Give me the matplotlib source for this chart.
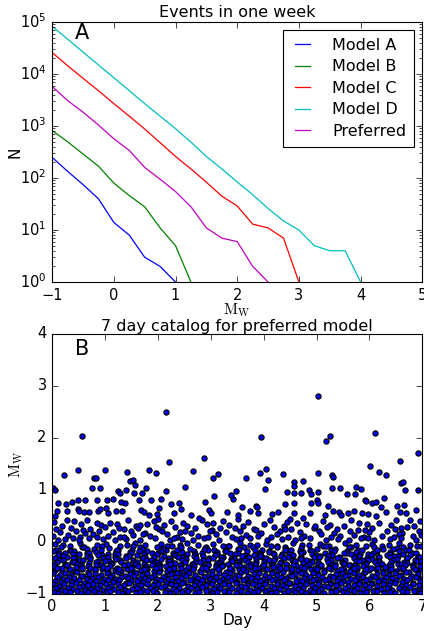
import matplotlib
matplotlib.use("Agg")
import matplotlib.pyplot as plt

plt.style.use("classic")

# --- Panel A: number of events per magnitude bin in one week ---
mags_a = [-1, -0.75, -0.5, -0.25, 0, 0.25, 0.5, 0.75, 1.0]
model_a = [250, 135, 75, 40, 14, 8, 3, 2, 1]

mags_b = [-1, -0.75, -0.5, -0.25, 0, 0.25, 0.5, 0.75, 1.0, 1.25]
model_b = [820, 500, 290, 170, 80, 46, 28, 11, 5, 1]

mags_c = [-1, -0.75, -0.5, -0.25, 0, 0.25, 0.5, 0.75, 1.0, 1.25, 1.5, 1.75,
          2.0, 2.25, 2.5, 2.75, 3.0]
model_c = [26000, 14500, 8300, 4800, 2700, 1550, 880, 480, 260, 150, 83, 45,
           29, 13, 11, 7, 1]

mags_d = [-1, -0.75, -0.5, -0.25, 0, 0.25, 0.5, 0.75, 1.0, 1.25, 1.5, 1.75,
          2.0, 2.25, 2.5, 2.75, 3.0, 3.25, 3.5, 3.75, 4.0]
model_d = [83000, 47000, 26500, 15000, 8500, 4800, 2700, 1550, 890, 490, 260,
           150, 84, 48, 26, 15, 10, 5, 4, 4, 1]

mags_p = [-1, -0.75, -0.5, -0.25, 0, 0.25, 0.5, 0.75, 1.0, 1.25, 1.5, 1.75,
          2.0, 2.25, 2.5]
preferred = [5800, 3100, 1850, 1050, 570, 340, 160, 95, 55, 28, 11, 7, 6, 2, 1]

# --- Panel B: 7 day catalog (day, magnitude) ---
# largest events, read one by one
cat_top = [
    (0.57, 2.04), (2.15, 2.49), (3.95, 2.01), (5.02, 2.81), (5.17, 1.93), (5.25, 2.03),
    (6.11, 2.09), (6.92, 1.70), (2.87, 1.62), (2.21, 1.54), (6.02, 1.46), (6.57, 1.56),
    (0.23, 1.29), (0.48, 1.38), (0.99, 1.38), (1.42, 1.35), (1.84, 1.39), (1.97, 1.33),
    (2.67, 1.37), (3.13, 1.31), (3.93, 1.33), (4.04, 1.40), (4.36, 1.31), (5.02, 1.32),
    (6.18, 1.34), (6.31, 1.29), (5.29, 1.29), (5.31, 1.24), (3.05, 1.22), (3.66, 1.22),
    (4.09, 1.19), (4.58, 1.15), (4.74, 1.17), (6.59, 1.13), (6.64, 1.15), (0.80, 1.22),
    (0.83, 1.23), (1.48, 1.16), (1.53, 1.18), (1.57, 1.10), (2.52, 1.06), (0.02, 1.04),
    (0.06, 1.00), (0.76, 1.04), (0.91, 1.04), (1.77, 1.04), (2.15, 0.97), (4.03, 1.02),
    (5.29, 1.03), (5.45, 1.03), (5.85, 1.01), (5.74, 1.06), (6.68, 0.99), (6.91, 1.00),
    (4.86, 0.99), (1.25, 0.97), (1.28, 0.94), (1.40, 0.99), (1.55, 0.93), (1.70, 0.93),
    (3.47, 0.97), (3.38, 0.90), (4.45, 0.96), (4.58, 1.08), (5.02, 0.96), (5.58, 0.91),
    (5.72, 0.92), (6.28, 0.84), (4.57, 0.94), (4.71, 0.94), (4.89, 0.91),
]
cat_upper = [
    (0.11, .74), (0.27, .72), (0.49, .81), (0.63, .80), (0.38, .76), (0.84, .80), (1.03, .81),
    (1.15, .82), (1.31, .76), (1.37, .75), (1.65, .81), (1.87, .81), (2.05, .83), (2.03, .65),
    (2.25, .72), (2.40, .74), (2.43, .64), (2.89, .76), (3.07, .88), (3.42, .83), (3.59, .67),
    (3.86, .69), (4.41, .73), (4.58, .74), (4.90, .74), (5.01, .81), (5.03, .75), (5.22, .69),
    (5.92, .81), (5.94, .78), (6.05, .75), (6.12, .76), (6.21, .66), (6.52, .69), (6.65, .71),
    (6.89, .62), (6.32, .58), (6.57, .58), (6.69, .55), (0.09, .59), (0.05, .49), (0.28, .59),
    (0.49, .63), (0.50, .60), (0.60, .58), (0.70, .58), (0.86, .60), (0.91, .64), (1.02, .65),
    (1.05, .55), (1.21, .60), (1.32, .60), (1.68, .62), (1.73, .58), (1.83, .51), (1.99, .53),
    (2.01, .44), (2.30, .55), (2.62, .51), (2.77, .45), (2.97, .61), (3.00, .56), (3.31, .57),
    (3.51, .51), (3.74, .59), (3.87, .67), (3.89, .56), (4.16, .53), (4.27, .58), (4.57, .56),
    (4.50, .44), (4.74, .46), (4.88, .55), (5.16, .51), (5.31, .59), (5.43, .58), (5.70, .60),
    (5.86, .56), (5.97, .53), (6.13, .49), (5.59, .56), (5.47, .51),
]
cat_mid = [
    (.04, .38), (.42, .40), (.66, .41), (1.10, .37), (1.44, .42), (1.93, .39), (2.48, .36),
    (2.83, .41), (3.24, .40), (3.70, .38), (4.12, .42), (4.63, .37), (5.12, .40), (5.66, .41),
    (6.18, .37), (6.77, .42), (6.95, .39),
    (.18, .31), (.55, .34), (.93, .32), (1.22, .35), (1.58, .30), (1.80, .34), (2.12, .33),
    (2.55, .31), (2.92, .35), (3.35, .32), (3.60, .30), (4.01, .34), (4.38, .31), (4.80, .35),
    (5.26, .33), (5.52, .30), (5.95, .34), (6.40, .32), (6.85, .30),
    (.08, .25), (.35, .27), (.72, .24), (1.00, .28), (1.35, .25), (1.62, .27), (2.02, .24),
    (2.33, .28), (2.70, .26), (3.02, .23), (3.45, .27), (3.82, .25), (4.20, .28), (4.52, .24),
    (4.95, .27), (5.38, .25), (5.78, .23), (6.05, .27), (6.48, .24), (6.72, .28),
    (.14, .18), (.45, .20), (.62, .17), (.88, .21), (1.16, .18), (1.50, .20), (1.75, .17),
    (2.08, .21), (2.42, .19), (2.62, .17), (2.98, .20), (3.28, .18), (3.55, .21), (3.95, .17),
    (4.30, .20), (4.68, .18), (5.05, .21), (5.33, .17), (5.64, .20), (6.00, .18), (6.33, .21),
    (6.62, .17), (6.94, .20),
    (.02, .11), (.30, .13), (.52, .10), (.78, .14), (1.06, .12), (1.28, .10), (1.52, .13),
    (1.85, .11), (2.18, .14), (2.37, .10), (2.76, .12), (3.10, .14), (3.40, .10), (3.66, .13),
    (3.90, .11), (4.25, .14), (4.46, .10), (4.77, .12), (5.09, .14), (5.45, .11), (5.71, .13),
    (5.90, .10), (6.24, .12), (6.55, .14), (6.82, .11),
    (.12, .04), (.24, .06), (.50, .03), (.70, .07), (.96, .05), (1.19, .03), (1.40, .06),
    (1.67, .04), (1.94, .07), (2.22, .03), (2.46, .06), (2.67, .04), (2.88, .07), (3.16, .03),
    (3.48, .05), (3.75, .07), (4.06, .03), (4.34, .06), (4.60, .04), (4.87, .07), (5.18, .03),
    (5.40, .06), (5.62, .04), (5.85, .07), (6.08, .03), (6.38, .05), (6.60, .07), (6.88, .04),
    (.28, .42), (.85, .36), (1.67, .33), (2.25, .40), (3.05, .37), (3.52, .43), (4.45, .38),
    (4.98, .31), (5.80, .36), (6.50, .41), (.58, .22), (1.26, .26), (1.97, .29), (2.52, .21),
    (3.18, .27), (3.86, .22), (4.40, .25), (5.20, .29), (5.92, .23), (6.60, .26),
    (.40, .08), (.85, .10), (1.35, .09), (1.72, .14), (2.30, .08), (2.95, .09), (3.58, .08),
    (4.14, .09), (4.70, .08), (5.28, .09), (5.98, .07), (6.46, .09), (6.97, .13),
]
cat_trans = [
    (.06, -.04), (.33, -.08), (.52, -.03), (.84, -.07), (1.02, -.05), (1.29, -.09), (1.57, -.02),
    (1.76, -.06), (2.06, -.04), (2.27, -.08), (2.55, -.03), (2.76, -.07), (3.05, -.05),
    (3.23, -.09), (3.56, -.02), (3.74, -.06), (4.04, -.04), (4.25, -.08), (4.55, -.03),
    (4.73, -.07), (5.06, -.05), (5.24, -.09), (5.54, -.02), (5.75, -.06), (6.05, -.04),
    (6.24, -.08), (6.56, -.03), (6.76, -.07),
    (.20, -.07), (.57, -.10), (.95, -.08), (1.42, -.06), (1.66, -.11), (2.17, -.09), (2.42, -.07),
    (2.91, -.10), (3.33, -.08), (3.62, -.11), (3.88, -.06), (4.13, -.09), (4.40, -.10),
    (4.86, -.07), (5.12, -.08), (5.66, -.11), (5.94, -.09), (6.37, -.06), (6.64, -.10), (6.90, -.08),
    (.16, -.11), (.34, -.15), (.61, -.10), (.80, -.14), (1.07, -.12), (1.25, -.16), (1.53, -.09),
    (1.70, -.13), (1.98, -.11), (2.15, -.15), (2.44, -.10), (2.61, -.14), (2.89, -.12),
    (3.06, -.16), (3.35, -.09), (3.52, -.13), (3.80, -.11), (3.97, -.15), (4.26, -.10),
    (4.43, -.14), (4.71, -.12), (4.88, -.16), (5.17, -.09), (5.34, -.13), (5.62, -.11),
    (5.79, -.15), (6.08, -.10), (6.25, -.14), (6.53, -.12), (6.70, -.16), (6.97, -.09),
    (.07, -.15), (.36, -.17), (.66, -.14), (.93, -.16), (1.20, -.18), (1.51, -.15),
    (1.79, -.17), (2.10, -.14), (2.37, -.16), (2.69, -.18), (2.95, -.15), (3.26, -.17),
    (3.54, -.14), (3.84, -.16), (4.11, -.18), (4.41, -.15), (4.69, -.17), (5.00, -.14),
    (5.27, -.16), (5.58, -.18), (5.86, -.15), (6.14, -.17), (6.45, -.14), (6.74, -.16),
    (.02, -.18), (.24, -.22), (.41, -.17), (.65, -.21), (.82, -.19), (1.06, -.23), (1.23, -.16),
    (1.47, -.20), (1.64, -.18), (1.88, -.22), (2.05, -.17), (2.29, -.21), (2.46, -.19),
    (2.70, -.23), (2.87, -.16), (3.11, -.20), (3.28, -.18), (3.52, -.22), (3.69, -.17),
    (3.93, -.21), (4.10, -.19), (4.34, -.23), (4.51, -.16), (4.75, -.20), (4.92, -.18),
    (5.16, -.22), (5.33, -.17), (5.57, -.21), (5.74, -.19), (5.98, -.23), (6.15, -.16),
    (6.39, -.20), (6.56, -.18), (6.80, -.22),
    (.13, -.21), (.40, -.24), (.69, -.22), (.94, -.25), (1.19, -.23), (1.50, -.21),
    (1.74, -.24), (2.01, -.22), (2.31, -.25), (2.55, -.23), (2.83, -.21), (3.12, -.24),
    (3.36, -.22), (3.64, -.25), (3.93, -.23), (4.17, -.21), (4.47, -.24), (4.71, -.22),
    (4.99, -.25), (5.28, -.23), (5.52, -.21), (5.82, -.24), (6.06, -.22), (6.34, -.25),
    (6.63, -.23), (6.88, -.21),
    (.12, -.25), (.28, -.29), (.51, -.24), (.66, -.28), (.87, -.26), (1.02, -.30), (1.24, -.23),
    (1.39, -.27), (1.61, -.25), (1.76, -.29), (1.98, -.24), (2.12, -.28), (2.35, -.26),
    (2.49, -.30), (2.71, -.23), (2.86, -.27), (3.08, -.25), (3.23, -.29), (3.45, -.24),
    (3.59, -.28), (3.82, -.26), (3.96, -.30), (4.19, -.23), (4.33, -.27), (4.55, -.25),
    (4.70, -.29), (4.92, -.24), (5.07, -.28), (5.29, -.26), (5.43, -.30), (5.66, -.23),
    (5.80, -.27), (6.03, -.25), (6.17, -.29), (6.39, -.24), (6.54, -.28), (6.76, -.26),
    (6.91, -.30),
    (.20, -.28), (.44, -.31), (.72, -.29), (.96, -.32), (1.18, -.30), (1.46, -.28),
    (1.70, -.31), (1.93, -.29), (2.21, -.32), (2.45, -.30), (2.68, -.28), (2.96, -.31),
    (3.19, -.29), (3.43, -.32), (3.71, -.30), (3.94, -.28), (4.21, -.31), (4.46, -.29),
    (4.69, -.32), (4.96, -.30), (5.21, -.28), (5.44, -.31), (5.72, -.29), (5.96, -.32),
    (6.19, -.30), (6.46, -.28), (6.71, -.31), (6.96, -.29),
    (.05, -.32), (.20, -.36), (.39, -.31), (.53, -.35), (.72, -.33), (.87, -.37), (1.05, -.30),
    (1.20, -.34), (1.39, -.32), (1.53, -.36), (1.72, -.31), (1.86, -.35), (2.05, -.33),
    (2.20, -.37), (2.38, -.30), (2.53, -.34), (2.72, -.32), (2.86, -.36), (3.05, -.31),
    (3.20, -.35), (3.38, -.33), (3.53, -.37), (3.72, -.30), (3.86, -.34), (4.05, -.32),
    (4.19, -.36), (4.38, -.31), (4.53, -.35), (4.71, -.33), (4.86, -.37), (5.05, -.30),
    (5.19, -.34), (5.38, -.32), (5.53, -.36), (5.71, -.31), (5.86, -.35), (6.05, -.33),
    (6.19, -.37), (6.38, -.30), (6.53, -.34), (6.71, -.32), (6.86, -.36),
    (.13, -.35), (.37, -.38), (.58, -.36), (.82, -.39), (1.07, -.37), (1.28, -.35),
    (1.54, -.38), (1.77, -.36), (1.98, -.39), (2.24, -.37), (2.45, -.35), (2.70, -.38),
    (2.94, -.36), (3.15, -.39), (3.40, -.37), (3.64, -.35), (3.85, -.38), (4.11, -.36),
    (4.32, -.39), (4.57, -.37), (4.80, -.35), (5.02, -.38), (5.27, -.36), (5.48, -.39),
    (5.74, -.37), (5.97, -.35), (6.18, -.38), (6.44, -.36), (6.65, -.39), (6.90, -.37),
    (.10, -.39), (.24, -.43), (.41, -.38), (.54, -.42), (.70, -.40), (.84, -.44), (1.00, -.37),
    (1.14, -.41), (1.31, -.39), (1.43, -.43), (1.61, -.38), (1.74, -.42), (1.90, -.40),
    (2.04, -.44), (2.21, -.37), (2.33, -.41), (2.51, -.39), (2.64, -.43), (2.80, -.38),
    (2.94, -.42), (3.11, -.40), (3.23, -.44), (3.41, -.37), (3.54, -.41), (3.70, -.39),
    (3.84, -.43), (4.01, -.38), (4.13, -.42), (4.31, -.40), (4.44, -.44), (4.60, -.37),
    (4.74, -.41), (4.91, -.39), (5.03, -.43), (5.21, -.38), (5.34, -.42), (5.50, -.40),
    (5.64, -.44), (5.81, -.37), (5.93, -.41), (6.11, -.39), (6.24, -.43), (6.40, -.38),
    (6.54, -.42), (6.71, -.40), (6.83, -.44), (6.97, -.37),
    (.03, -.42), (.26, -.45), (.47, -.43), (.68, -.46), (.92, -.44), (1.12, -.42),
    (1.35, -.45), (1.57, -.43), (1.77, -.46), (2.01, -.44), (2.23, -.42), (2.44, -.45),
    (2.67, -.43), (2.88, -.46), (3.10, -.44), (3.32, -.42), (3.53, -.45), (3.76, -.43),
    (3.97, -.46), (4.18, -.44), (4.42, -.42), (4.62, -.45), (4.85, -.43), (5.07, -.46),
    (5.27, -.44), (5.51, -.42), (5.72, -.45), (5.93, -.43), (6.17, -.46), (6.37, -.44),
    (6.60, -.42), (6.82, -.45),
    (.03, -.46), (.18, -.50), (.29, -.45), (.45, -.49), (.55, -.47), (.71, -.51), (.82, -.44),
    (.97, -.48), (1.09, -.46), (1.23, -.50), (1.35, -.45), (1.51, -.49), (1.62, -.47),
    (1.77, -.51), (1.88, -.44), (2.03, -.48), (2.15, -.46), (2.30, -.50), (2.41, -.45),
    (2.57, -.49), (2.68, -.47), (2.83, -.51), (2.95, -.44), (3.10, -.48), (3.21, -.46),
    (3.37, -.50), (3.48, -.45), (3.63, -.49), (3.75, -.47), (3.90, -.51), (4.01, -.44),
    (4.17, -.48), (4.28, -.46), (4.43, -.50), (4.55, -.45), (4.70, -.49), (4.81, -.47),
    (4.97, -.51), (5.08, -.44), (5.23, -.48), (5.35, -.46), (5.50, -.50), (5.61, -.45),
    (5.77, -.49), (5.88, -.47), (6.03, -.51), (6.15, -.44), (6.30, -.48), (6.41, -.46),
    (6.57, -.50), (6.68, -.45), (6.83, -.49), (6.95, -.47),
    (.10, -.50), (.34, -.53), (.56, -.51), (.81, -.52), (1.03, -.50), (1.26, -.53),
    (1.50, -.51), (1.74, -.52), (1.96, -.50), (2.21, -.53), (2.44, -.51), (2.66, -.52),
    (2.91, -.50), (3.14, -.53), (3.36, -.51), (3.61, -.52), (3.83, -.50), (4.06, -.53),
    (4.31, -.51), (4.53, -.52), (4.76, -.50), (5.01, -.53), (5.23, -.51), (5.46, -.52),
    (5.71, -.50), (5.93, -.53), (6.16, -.51), (6.41, -.52), (6.63, -.50), (6.86, -.53),
]
cat_low = [
    (.06, -.54), (.19, -.57), (.31, -.53), (.44, -.56), (.56, -.52), (.67, -.58), (.81, -.55),
    (.94, -.53), (1.05, -.57), (1.18, -.54), (1.31, -.56), (1.42, -.52), (1.55, -.58),
    (1.68, -.55), (1.80, -.53), (1.93, -.57), (2.04, -.54), (2.17, -.56), (2.30, -.52),
    (2.41, -.58), (2.54, -.55), (2.67, -.53), (2.79, -.57), (2.92, -.54), (3.03, -.56),
    (3.16, -.52), (3.29, -.58), (3.40, -.55), (3.53, -.53), (3.66, -.57), (3.78, -.54),
    (3.91, -.56), (4.02, -.52), (4.15, -.58), (4.28, -.55), (4.39, -.53), (4.52, -.57),
    (4.65, -.54), (4.77, -.56), (4.90, -.52), (5.01, -.58), (5.14, -.55), (5.27, -.53),
    (5.38, -.57), (5.51, -.54), (5.64, -.56), (5.76, -.52), (5.89, -.58), (6.00, -.55),
    (6.13, -.53), (6.26, -.57), (6.37, -.54), (6.50, -.56), (6.63, -.52), (6.75, -.58),
    (6.88, -.55), (6.98, -.53),
    (.02, -.61), (.14, -.64), (.25, -.60), (.36, -.63), (.47, -.59), (.59, -.65), (.69, -.62),
    (.81, -.61), (.92, -.64), (1.03, -.60), (1.14, -.63), (1.25, -.59), (1.37, -.65),
    (1.47, -.62), (1.59, -.61), (1.70, -.64), (1.80, -.60), (1.92, -.63), (2.03, -.59),
    (2.14, -.65), (2.25, -.62), (2.37, -.61), (2.47, -.64), (2.59, -.60), (2.70, -.63),
    (2.81, -.59), (2.92, -.65), (3.03, -.62), (3.15, -.61), (3.25, -.64), (3.37, -.60),
    (3.48, -.63), (3.58, -.59), (3.70, -.65), (3.81, -.62), (3.92, -.61), (4.03, -.64),
    (4.15, -.60), (4.25, -.63), (4.37, -.59), (4.48, -.65), (4.59, -.62), (4.70, -.61),
    (4.81, -.64), (4.93, -.60), (5.03, -.63), (5.15, -.59), (5.26, -.65), (5.36, -.62),
    (5.48, -.61), (5.59, -.64), (5.70, -.60), (5.81, -.63), (5.92, -.59), (6.04, -.65),
    (6.14, -.62), (6.26, -.61), (6.37, -.64), (6.48, -.60), (6.59, -.63), (6.70, -.59),
    (6.81, -.65), (6.92, -.62),
    (.09, -.68), (.20, -.71), (.32, -.67), (.42, -.70), (.54, -.66), (.65, -.72), (.76, -.69),
    (.87, -.67), (.98, -.71), (1.09, -.68), (1.21, -.71), (1.31, -.67), (1.43, -.70),
    (1.54, -.66), (1.65, -.72), (1.76, -.69), (1.87, -.67), (1.98, -.71), (2.10, -.68),
    (2.20, -.71), (2.32, -.67), (2.43, -.70), (2.54, -.66), (2.65, -.72), (2.76, -.69),
    (2.87, -.67), (2.99, -.71), (3.09, -.68), (3.21, -.71), (3.32, -.67), (3.43, -.70),
    (3.54, -.66), (3.65, -.72), (3.76, -.69), (3.88, -.67), (3.98, -.71), (4.10, -.68),
    (4.21, -.71), (4.32, -.67), (4.43, -.70), (4.54, -.66), (4.65, -.72), (4.77, -.69),
    (4.87, -.67), (4.99, -.71), (5.10, -.68), (5.21, -.71), (5.32, -.67), (5.43, -.70),
    (5.54, -.66), (5.66, -.72), (5.76, -.69), (5.88, -.67), (5.99, -.71), (6.10, -.68),
    (6.21, -.71), (6.32, -.67), (6.43, -.70), (6.55, -.66), (6.65, -.72), (6.77, -.69),
    (6.88, -.67), (6.98, -.71),
    (.05, -.75), (.16, -.78), (.28, -.74), (.38, -.77), (.50, -.73), (.61, -.79), (.71, -.76),
    (.83, -.75), (.94, -.78), (1.05, -.74), (1.16, -.77), (1.27, -.73), (1.39, -.79),
    (1.49, -.76), (1.60, -.75), (1.72, -.78), (1.82, -.74), (1.94, -.77), (2.05, -.73),
    (2.16, -.79), (2.27, -.76), (2.38, -.75), (2.50, -.78), (2.60, -.74), (2.72, -.77),
    (2.83, -.73), (2.93, -.79), (3.05, -.76), (3.16, -.75), (3.27, -.78), (3.38, -.74),
    (3.49, -.77), (3.61, -.73), (3.71, -.79), (3.83, -.76), (3.94, -.75), (4.05, -.78),
    (4.16, -.74), (4.27, -.77), (4.39, -.73), (4.49, -.79), (4.61, -.76), (4.72, -.75),
    (4.82, -.78), (4.94, -.74), (5.05, -.77), (5.16, -.73), (5.27, -.79), (5.38, -.76),
    (5.50, -.75), (5.60, -.78), (5.72, -.74), (5.83, -.77), (5.94, -.73), (6.05, -.79),
    (6.16, -.76), (6.28, -.75), (6.38, -.78), (6.50, -.74), (6.61, -.77), (6.72, -.73),
    (6.83, -.79), (6.95, -.76),
    (.01, -.82), (.13, -.85), (.23, -.81), (.35, -.84), (.45, -.80), (.57, -.86), (.68, -.83),
    (.78, -.81), (.91, -.84), (1.01, -.82), (1.12, -.85), (1.24, -.81), (1.35, -.84),
    (1.45, -.80), (1.57, -.86), (1.68, -.83), (1.79, -.81), (1.91, -.84), (2.01, -.82),
    (2.13, -.85), (2.24, -.81), (2.35, -.84), (2.46, -.80), (2.57, -.86), (2.69, -.83),
    (2.79, -.81), (2.91, -.84), (3.02, -.82), (3.13, -.85), (3.25, -.81), (3.35, -.84),
    (3.47, -.80), (3.58, -.86), (3.69, -.83), (3.80, -.81), (3.91, -.84), (4.03, -.82),
    (4.13, -.85), (4.25, -.81), (4.36, -.84), (4.47, -.80), (4.59, -.86), (4.69, -.83),
    (4.81, -.81), (4.92, -.84), (5.03, -.82), (5.14, -.85), (5.25, -.81), (5.37, -.84),
    (5.47, -.80), (5.59, -.86), (5.70, -.83), (5.81, -.81), (5.92, -.84), (6.03, -.82),
    (6.15, -.85), (6.25, -.81), (6.37, -.84), (6.48, -.80), (6.59, -.86), (6.70, -.83),
    (6.82, -.81), (6.93, -.84),
    (.07, -.88), (.18, -.92), (.30, -.89), (.40, -.91), (.51, -.87), (.63, -.93), (.73, -.90),
    (.84, -.88), (.96, -.92), (1.06, -.89), (1.17, -.91), (1.29, -.87), (1.38, -.93),
    (1.51, -.90), (1.61, -.88), (1.72, -.92), (1.85, -.89), (1.94, -.91), (2.06, -.87),
    (2.18, -.93), (2.28, -.90), (2.40, -.88), (2.51, -.92), (2.62, -.89), (2.74, -.91),
    (2.84, -.87), (2.97, -.93), (3.07, -.90), (3.18, -.88), (3.30, -.92), (3.41, -.89),
    (3.52, -.91), (3.64, -.87), (3.74, -.93), (3.86, -.90), (3.97, -.88), (4.08, -.92),
    (4.20, -.89), (4.31, -.91), (4.42, -.87), (4.53, -.93), (4.65, -.90), (4.75, -.88),
    (4.87, -.92), (4.98, -.89), (5.09, -.91), (5.21, -.87), (5.31, -.93), (5.43, -.90),
    (5.54, -.88), (5.65, -.92), (5.77, -.89), (5.87, -.91), (5.99, -.87), (6.10, -.93),
    (6.21, -.90), (6.33, -.88), (6.43, -.92), (6.55, -.89), (6.66, -.91), (6.77, -.87),
    (6.89, -.93), (6.99, -.90),
    (.03, -.96), (.12, -.99), (.25, -.95), (.34, -.97), (.47, -.94), (.55, -.98), (.68, -.96),
    (.80, -.95), (.88, -.99), (1.01, -.97), (1.10, -.94), (1.24, -.96), (1.33, -.98),
    (1.44, -.95), (1.58, -.99), (1.66, -.97), (1.79, -.95), (1.90, -.94), (1.99, -.98),
    (2.13, -.96), (2.22, -.99), (2.35, -.95), (2.45, -.97), (2.56, -.94), (2.70, -.98),
    (2.78, -.96), (2.91, -.95), (3.03, -.99), (3.12, -.97), (3.25, -.94), (3.34, -.96),
    (3.48, -.98), (3.57, -.95), (3.69, -.99), (3.82, -.97), (3.90, -.95), (4.03, -.94),
    (4.14, -.98), (4.24, -.96), (4.38, -.99), (4.46, -.95), (4.59, -.97), (4.70, -.94),
    (4.80, -.98), (4.94, -.96), (5.02, -.95), (5.15, -.99), (5.27, -.97), (5.36, -.94),
    (5.50, -.96), (5.58, -.98), (5.71, -.95), (5.82, -.99), (5.93, -.97), (6.06, -.95),
    (6.14, -.94), (6.28, -.98), (6.38, -.96), (6.49, -.99), (6.62, -.95), (6.71, -.97),
    (6.84, -.94), (6.95, -.98),
]

fig = plt.figure(figsize=(4.24, 6.31), dpi=100, facecolor="white")
ax1 = fig.add_axes([0.123, 0.553, 0.873, 0.412])
ax2 = fig.add_axes([0.123, 0.059, 0.873, 0.412])

# --- Panel A ---
lw = 0.9
ax1.plot(mags_a, model_a, color="b", lw=lw, label="Model A")
ax1.plot(mags_b, model_b, color="g", lw=lw, label="Model B")
ax1.plot(mags_c, model_c, color="r", lw=lw, label="Model C")
ax1.plot(mags_d, model_d, color="c", lw=lw, label="Model D")
ax1.plot(mags_p, preferred, color="m", lw=lw, label="Preferred")
ax1.set_yscale("log")
ax1.set_xlim(-1, 5)
ax1.set_ylim(1, 1e5)
ax1.set_title("Events in one week", fontsize=11.5, pad=4)
ax1.set_xlabel(r"$\mathrm{M_W}$", fontsize=11, labelpad=-1)
ax1.set_ylabel("N", fontsize=11, labelpad=-2)
ax1.text(0.062, 0.935, "A", transform=ax1.transAxes, fontsize=15)
leg = ax1.legend(loc="upper right", fontsize=11.5, handlelength=1.5,
                 handletextpad=1.1, labelspacing=0.4, borderpad=0.5)
leg.get_frame().set_linewidth(0.8)

# --- Panel B ---
catalog = cat_low + cat_trans + cat_mid + cat_upper + cat_top
days = [d for d, m in catalog]
mw = [m for d, m in catalog]
ax2.scatter(days, mw, s=14, c="b", edgecolors="k", linewidths=0.85)
ax2.set_xlim(0, 7)
ax2.set_ylim(-1, 4)
ax2.set_title("7 day catalog for preferred model", fontsize=11.5, pad=2)
ax2.set_xlabel("Day", fontsize=11, labelpad=-1)
ax2.set_ylabel(r"$\mathrm{M_W}$", fontsize=11, labelpad=0)
ax2.text(0.062, 0.92, "B", transform=ax2.transAxes, fontsize=15)

for ax in (ax1, ax2):
    ax.tick_params(labelsize=10.5)
    for s in ax.spines.values():
        s.set_linewidth(0.8)

fig.savefig("out.png", dpi=100, facecolor="white")
